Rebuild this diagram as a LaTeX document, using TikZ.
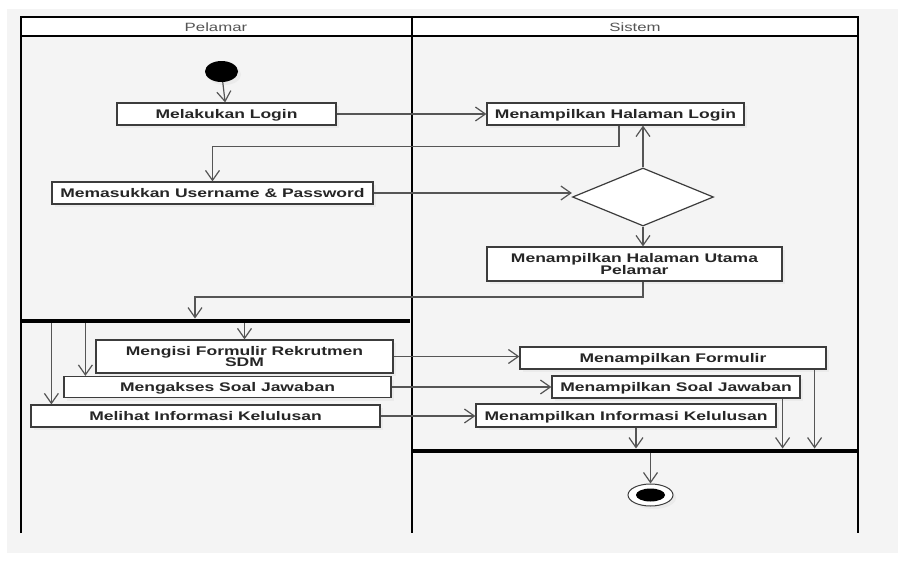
\documentclass[tikz,border=0pt]{standalone}
\usepackage{fontspec}
\newfontfamily\umlfont[FakeStretch=1.4]{Liberation Sans}
\usetikzlibrary{positioning,shapes.geometric,arrows.meta,shadows}
\definecolor{bgpage}{HTML}{F4F4F4}
\definecolor{txtdark}{HTML}{262626}
\definecolor{boxline}{HTML}{3C3C3C}
\definecolor{flowline}{HTML}{555555}
\definecolor{lanetxt}{HTML}{555555}

\begin{document}
\begin{tikzpicture}[
		x=1pt,y=-1pt,
		action/.style={ % kotak aktivitas
				draw=boxline, line width=1.2pt, fill=white,
				drop shadow={shadow xshift=3pt,shadow yshift=-3pt,fill=black!10,opacity=.6},
				inner sep=0pt, align=center, text=txtdark,
				font=\umlfont\bfseries\fontsize{12.5}{11.5}\selectfont
			},
		oneline/.style={text height=10pt, text depth=1pt},
		flow/.style={draw=flowline, line width=1.2pt,
				-{Straight Barb[length=10pt,width=14pt,line width=1.2pt]}},
		bar/.style={fill=black, inner sep=0pt, minimum height=4.5pt},
		lane/.style={line width=2pt},
		lanehead/.style={text=lanetxt, font=\umlfont\fontsize{12}{12}\selectfont}
	]
	\useasboundingbox (0,0) rectangle (898,563);
	\fill[bgpage] (7,9) rectangle (898,553);
	% swimlane
	\fill[white] (21,17) rectangle (858,36);
	\draw[lane] (21,533) -- (21,17) -- (858,17) -- (858,533);
	\draw[lane] (21,36) -- (858,36);
	\draw[lane] (412,17) -- (412,533);
	\node[lanehead] (pelamar) at (216,27) {Pelamar};
	\node[lanehead] (sistem) at (635,27) {Sistem};

	% login
	\node[ellipse, fill=black, minimum width=33pt, minimum height=21pt, inner sep=0pt,
		drop shadow={shadow xshift=3pt,shadow yshift=-3pt,fill=black!10,opacity=.6}] (start) at (221.5,71.5) {};
	\node[action, oneline, minimum width=219pt, minimum height=22pt] (login) at (226.5,114) {Melakukan Login};
	\node[action, oneline, minimum width=257pt, minimum height=22pt] (hlogin) at (615.5,114) {Menampilkan Halaman Login};
	\node[action, oneline, minimum width=321pt, minimum height=22pt] (masuk) at (212.5,193) {Memasukkan Username \& Password};
	\node[diamond, draw=boxline, line width=1.2pt, fill=white, inner sep=0pt,
		minimum width=141pt, minimum height=58pt] (cek) at (643,197) {};
	\node[action, minimum width=295pt, minimum height=34pt] (utama) at (634.5,264) {Menampilkan Halaman Utama\\Pelamar};

	% fork / join
	\node[bar, minimum width=389pt] (fork) at (215.5,321) {};
	\node[bar, minimum width=446pt] (join) at (635,451) {};

	% aktivitas pelamar
	\node[action, minimum width=297pt, minimum height=33pt] (isi) at (244.5,356.5) {Mengisi Formulir Rekrutmen\\SDM};
	\node[action, oneline, minimum width=327pt, minimum height=21pt] (akses) at (227.5,387) {Mengakses Soal Jawaban};
	\node[action, oneline, minimum width=349pt, minimum height=22pt] (lihat) at (205.5,416) {Melihat Informasi Kelulusan};
	% aktivitas sistem
	\node[action, oneline, minimum width=306pt, minimum height=22pt] (form) at (673,358) {Menampilkan Formulir};
	\node[action, oneline, minimum width=248pt, minimum height=22pt] (soal) at (676,387) {Menampilkan Soal Jawaban};
	\node[action, oneline, minimum width=300pt, minimum height=23pt] (info) at (626,415.5) {Menampilkan Informasi Kelulusan};

	% final
	\node[ellipse, draw=boxline, line width=1pt, fill=white, minimum width=45pt, minimum height=22pt, inner sep=0pt,
		drop shadow={shadow xshift=3pt,shadow yshift=-3pt,fill=black!10,opacity=.6}] (end) at (650.5,495) {};
	\node[ellipse, fill=black, minimum width=29pt, minimum height=13pt, inner sep=0pt] (endin) at (end.center) {};

	\coordinate (b2) at (195,297);
	\coordinate (ak1) at ([xshift=22pt]akses.north west);
	\coordinate (li1) at ([xshift=21pt]lihat.north west);
	\coordinate (in1) at ([xshift=10pt]info.south);
	\coordinate (so1) at ([xshift=-18pt]soal.south east);
	\coordinate (fo1) at ([xshift=-12pt]form.south east);

	% alur
	\draw[flow] (start) -- (login);
	\draw[flow] (login.east) -- (hlogin.west);
	\draw[flow] ([xshift=3.5pt]hlogin.south) |- ([yshift=35pt]masuk.north) -- (masuk.north);
	\draw[flow] (masuk.east) -- (masuk.east -| cek.west);
	\draw[flow] (cek.north) -- (cek.north |- hlogin.south);
	\draw[flow] (cek.south) -- (cek.south |- utama.north);
	\draw[flow] (cek.south |- utama.south) |- (b2) -- (b2 |- fork.north);
	\draw[flow] (isi.north |- fork.south) -- (isi.north);
	\draw[flow] (ak1 |- fork.south) -- (ak1);
	\draw[flow] (li1 |- fork.south) -- (li1);
	\draw[flow] (isi.east) -- (isi.east -| form.west);
	\draw[flow] (akses.east) -- (akses.east -| soal.west);
	\draw[flow] (lihat.east) -- (lihat.east -| info.west);
	\draw[flow] (in1) -- (in1 |- join.north);
	\draw[flow] (so1) -- (so1 |- join.north);
	\draw[flow] (fo1) -- (fo1 |- join.north);
	\draw[flow] (end.north |- join.south) -- (end.north);
\end{tikzpicture}
\end{document}
